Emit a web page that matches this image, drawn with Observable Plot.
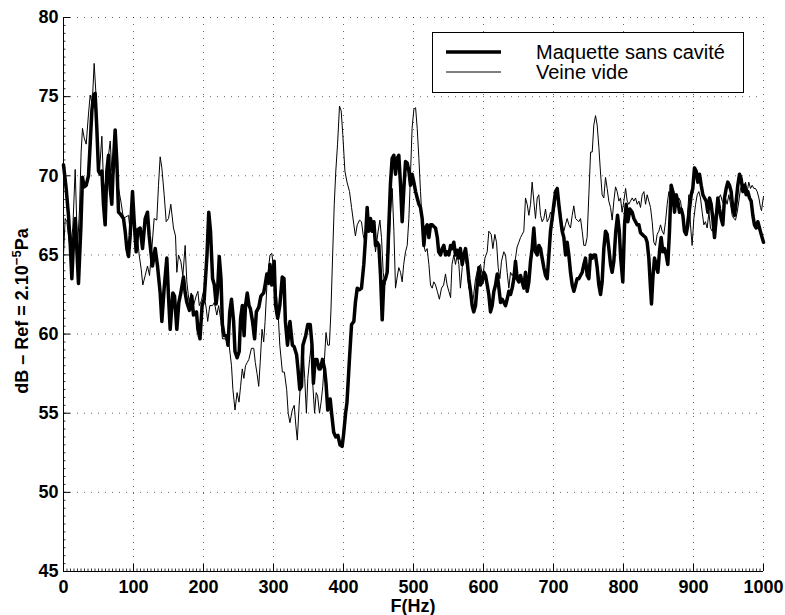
<!DOCTYPE html>
<html>
<head>
<meta charset="utf-8">
<script src="https://cdn.jsdelivr.net/npm/d3@7"></script>
<script src="https://cdn.jsdelivr.net/npm/@observablehq/plot@0.6"></script>
<style>
  html, body { margin: 0; padding: 0; background: #fff; }
  #wrap { position: relative; width: 785px; height: 615px; font-family: "Liberation Sans", Arial, Helvetica, sans-serif; }
  #legend { position: absolute; left: 432px; top: 32px; width: 310px; height: 59px; border: 1.5px solid #000; background: #fff; }
  #legend svg { display: block; }
</style>
</head>
<body>
<div id="wrap"></div>
<script>
// ---- Data ----
const seriesNames = ["Maquette sans cavité", "Veine vide"];

const maquetteF = [0,3.8,7.1,9.5,11.9,14.3,16.7,19,21.4,24.8,27.1,29.5,32.4,35.7,38.1,40.5,42.9,45.2,47.6,50,52.4,54.8,57.1,59.5,61.9,64.3,66.7,69,71.4,73.8,76.2,78.6,81,85.7,88.1,90.5,92.9,95.2,98.6,101,103.8,106.2,109.5,112.9,116.7,120,122.4,124.8,127.1,131,134.3,138.1,140.5,143.8,147.6,150,152.4,156.2,158.6,161.9,164.8,167.6,171.4,173.8,176.2,180,183.3,185.7,
190,192,195,198,201,205,207.5,210,213,215.5,218,220,222.5,225,227,229.5,233,235,237.5,240,243,245,248,251,253,255.5,258,260,262.5,265,267,270,273,275.5,279,282,286,288,290.5,293,295,297.5,301,303,306,309,312.5,315,317,320,323.5,327,329.5,333,335,337.5,340,342,346,349,352.5,355,357,359.5,362,365,367,370,373,375,377.5,381,383,386,389,392,395,398,400,403,405,408.6,411.5,414.8,417,419.6,423,425.7,429,431.5,433.8,436,438.6,441,443.4,445.7,448,450.5,452.9,455.3,457.6,460,462.4,464.8,467.2,469.5,471.9,474.3,476.7,479,481.5,483.8,486,488.6,491,493.4,495.7,498,500.5,503,505.3,507.7,510,512.4,514.8,517,519.5,522,524.3,526.7,529,531.5,534,536,538.6,541,543.4,545.7,548,550.5,553,555,557.6,560,562.4,564.8,567,569.6,572,574.3,576.7,579,581.5,583.8,586,
588.6,591,593.4,595.7,598.1,600.5,602.9,605.3,607.6,610,612.4,614.8,617.2,619.6,622,624.3,626.7,629.1,631.5,633.8,636.2,638.6,641,643.4,645.7,648.1,650.5,652.9,655.3,657.6,660,662.4,664.8,667.2,669.5,671.9,674.3,676.7,679.1,681.5,683.8,686.2,688.6,691,693.4,695.7,698.1,700.5,702.9,705.3,707.6,710,712.4,714.8,717.2,719.5,721.9,724.3,726.7,729.1,731.5,733.8,736.2,738.6,741,743.4,745.7,748.1,750.5,752.9,755.3,757.6,760,762.4,764.8,767.2,769.5,771.9,774.3,776.7,779.1,781.5,783.8,786.2,789,791.5,794,796,799,801.5,803.8,806.2,809.1,812.4,814.8,817.2,819.6,822,824.3,826.7,829.1,831.5,833.8,836.2,838.6,840,841.9,844.3,846.7,849.1,851.4,853.8,856.2,858.6,861,863.3,865.7,868.1,870.5,872.9,875.3,877.6,880,882.4,884.8,887.1,889.5,891.9,894.3,896.7,899,901.4,903.8,906.2,908.6,911,913.4,915.7,918.1,920.5,922.9,925.2,927.6,930,932.4,934.8,937.1,939.5,941.9,944.3,946.7,949,951.4,953.8,956.2,958.6,961,963.3,965.7,968.1,970.5,972.9,975.2,977.6,980,982.4,984.8,987.1,989.5,991.9,994.3,996.7,1000];

const maquetteDb = [70.7,69.2,67.5,65.8,63.5,65.8,67.3,65.4,63.2,66.7,69.9,69.3,69.4,70,72,74.1,75.1,75.2,73,70.3,70.1,70.3,68.2,66.9,70.3,71.3,69.2,68.2,70.9,72.9,70.9,67.7,67.6,67.3,66.5,65.4,64.9,66.2,69,67.1,65.2,66.6,66.7,65.4,67.3,67.7,66.2,65.2,64.3,65.4,64.3,62.6,60.8,62.9,64.8,62.4,60.3,62.6,62.4,60.3,62,62.6,63.6,62.6,62,61.5,62.4,61.2,
61.4,60.3,59.7,61.8,62.2,65,67.7,66.5,63.5,63.1,61.9,62.7,64.9,63.5,60.6,59.9,59.9,59.3,61.4,62.2,60.8,58.9,58.5,58.9,61,61.8,59.9,61.8,62.6,61.8,61.6,60.8,59.7,61.4,61.7,62.4,62.6,63.1,63.8,63.2,64.4,63.1,64.6,61.8,61,61.8,63.6,63.5,60.8,59.3,60.8,59.3,59.2,58.7,57.8,56.5,56.7,59.3,59.9,60.6,60.6,59.3,56.9,58.4,58.4,57.8,57.8,58.4,57.8,56.9,55.2,55.9,55,53.8,53.5,53.6,53,52.9,53.6,55,55.7,58.5,60.6,60.8,62,62.9,62.8,62.9,64.4,66.1,68,66.5,67.3,66.5,67.1,65.6,65.8,65.6,63.7,60.9,63.3,63.5,63.9,66.9,69.6,71.1,71.3,70.1,71.1,71.3,69.4,67.1,69,70.9,70.8,70.3,69.4,70.1,69.6,69,68.6,68.2,68,67.3,65.6,66.7,66.9,66.1,66.9,66.9,66.8,66.7,66.1,65.2,65,65.4,65.6,65,65.2,65,65.6,65.4,65.8,65,65.3,64.8,65.4,64.4,65,65.4,64.6,63.5,62.7,61.8,61.4,
61.8,63.1,64.2,63.1,63.3,63.9,63.7,63.1,62.5,61.4,61.8,62.7,63.1,63.8,62.9,62,62.2,62,61.8,62.2,62.7,62.5,62.9,63.5,64.6,63.5,63.3,63.7,63.3,62.9,63.9,62.7,63.3,64.6,65.4,66.7,65.2,65,65.6,65.4,64.8,64.2,63.7,63.5,65,66.5,67.3,68.2,69,69.2,68.2,67.3,66.5,66.1,65,65.8,65,63.9,63.1,62.7,63.1,63.5,63.5,63.7,63.9,64.4,64.8,63.7,63.5,65,64.8,65,65,64.2,63.1,62.5,63.3,65.4,66.5,66.3,65.4,64.4,63.9,64.6,66.5,67.5,66.5,64.8,63.3,66.9,68.2,67.1,67.9,67.7,67.3,67.1,66.9,66.9,66.4,66.3,66.2,66.1,65.8,64.8,62.9,61.9,63.5,64.8,64.4,63.9,65.2,66.1,65.2,65.4,65,64.4,66.5,69.4,69,67.7,68.8,68.4,67.7,67.9,67.5,66.5,66.3,66.9,67.9,68.8,69.2,70.5,70.3,69.6,70.1,69.4,68.8,68.6,68.4,67.7,68.6,68.2,67.3,66.1,67.3,68.6,67.9,67.3,66.9,68.6,69.2,69.6,69.4,69,67.9,67.5,68.4,69.4,70.1,69.8,69,69.4,68.8,69,68.6,68.4,67.5,66.9,66.7,67.1,66.7,66.3,65.8];

const veineF = [0,2.4,4.8,7.1,9.5,13.3,16.7,20,22.9,25.2,27.1,29.5,32.4,35.7,38.1,41,43.8,46.7,49,51.4,54.8,57.1,60.5,63.3,66.7,69,71.4,75.2,78.6,81.9,85.7,89,92.9,95.2,97.6,101,104.8,108.1,111,113.3,116.7,120,122.9,126.2,129.5,133.3,135.7,138.1,140.5,143.8,146.7,150,153.3,157.1,160,161.9,164.3,167.6,170.5,173.8,176.2,179.5,182.4,185.7,189.5,
192,194,197,200,204,206,209,213,215.5,219,221.6,225,227,231,234,236.6,240,242,245,248,250.7,253,255.4,257.7,260,262.4,264.8,268.5,271.8,274,276.5,278.9,281,283.6,286,288,290.6,293,295,297.6,300,302,304.7,307,309,312.7,315.5,318.8,321,323.5,326.8,329.6,332,334,336.6,339,342,344.6,347,349,351.6,354,356,358.7,361,363,365.7,368,370.4,372.8,375,377.5,379.8,382,384.5,386.8,389,391.5,394.3,396.7,399,402,405,408.6,411.5,414.8,417,419.6,422.9,425.7,428,430.5,433.8,436.2,438.6,441,443.4,445.7,449.5,452,454.3,456.7,459,462,464.8,467,469.6,472,474.3,476.7,479,481.5,483.8,486,488.6,491,493.4,495.7,498,500.5,503,505.3,507.7,510,512.4,514.8,517,519.5,522,524.3,526.7,529,531.5,534,537,540,543,545.7,548,550.5,553,555,557.6,560,562.4,564.8,567,569.6,572,574.3,576.7,579,581.5,583.8,586,588.6,
592.4,595.7,599,602,605.3,607.6,611,613.4,616.2,618.6,621,623.4,625.7,629,631.5,633.8,636.2,638.6,641,643.4,645.7,648,650.5,652.9,655.3,657.6,660,662.4,664.8,667.2,669.5,671.9,674.3,676.7,679,681.5,683.8,686.2,688.6,691,693.4,695.7,698,700.5,703,705.3,707.6,710,712.4,714.8,717,719.5,722,724.3,726.7,729,731.5,733.8,736.2,738.6,741,743.3,745.7,748,750.5,753,755.3,757.6,760,762.4,764.8,767,769.5,771.9,774.3,776.7,779,781.5,783.8,786.2,788.6,791,793.4,795.7,798,800.5,803,805.3,807.6,810,812.4,814.8,817.2,819.6,822,824.3,826.7,829.1,831.5,833.8,836.2,838.6,841,843.3,845.7,848.1,850.5,852.9,855.3,857.6,860,862.4,864.8,867.1,869.5,871.9,874.3,876.7,879,881.4,883.8,886.2,888.6,891,893.4,895.7,898,900.5,903,905.3,907.6,910,912.4,914.8,917,919.5,922,924.3,926.7,929,931.5,933.8,936.2,938.6,941,943.3,945.7,948,950.5,952.9,955.3,957.6,960,962.4,964.8,967.1,969.5,971.9,974.3,976.7,979,981.4,983.8,986.2,988.6,991,993.4,995.7,997.1,1000];

const veineDb = [65,67.3,67.1,66.2,65.4,66.7,70.4,65.4,67.9,71.5,73,72.4,72,73.9,75.1,74.5,77.1,74.9,72,70.3,72.5,69.6,69,70.9,72.2,70.3,70.1,70.9,69.2,68.4,67.3,67.4,67.5,66.5,67.9,66.9,66.5,65,64.1,63.1,63.7,64.3,63.7,65.4,67.3,67.2,69.4,71.2,70.5,68.8,67.1,67.3,68.2,66.7,66.2,63.9,65,64.6,63.7,65.6,63.3,62,62.6,61.8,62.4,
62.7,61.8,62.1,62.7,61.6,60.8,61.8,61.8,62,61.2,61.8,60.8,59.7,59.7,59.5,59.3,58,56.5,55.2,56.3,55.7,56.7,57.8,57.2,58,58.2,58.4,59.1,59.1,58.2,57.5,56.7,58.2,60.3,59.5,60.8,63.1,64.2,65,65.1,64.2,63.5,62.3,61,59.3,57.6,57.6,56.5,55,54.4,55.2,55.5,54.2,53.3,55.5,57.2,59.3,57.2,55,57.2,58.4,59.3,56.9,55,56.3,56.1,55,55.7,56.7,58.4,60.1,59.3,59.3,61.4,65,68.2,70.3,72,74.4,74.1,72.6,70.3,69.6,69,68,66.9,66.2,66.9,67.2,67.1,66.3,65.8,66.9,66.5,67.3,67.1,66.5,65.2,66.5,67.2,66.1,63.9,63.1,63.7,65.2,67.5,69.2,66.5,62.9,63.6,64.2,63.9,63.3,64.4,65.2,65.6,67.3,70.1,73,74.2,74.3,73,71.1,69,67.1,65.6,65.2,65.4,64.4,63.1,62.9,63.3,63.1,62.7,62.2,62.9,63.1,63.8,63.1,62.7,62.3,64.4,65,64.4,65,64.4,62.9,64.2,65,64.6,64.2,62.9,62.7,61.8,62.5,63.5,
64.2,64.4,63.5,64.8,65.2,66.5,66.3,65.4,66.3,65.8,64.2,63.5,64.6,65.2,65,63.9,62.9,63.9,63.7,63.9,64.8,65.5,65.8,66.1,66.3,66.5,68.6,68.2,67.5,68.2,69.6,68.4,67.3,68.6,68.8,67.5,67.1,67.3,67.9,67.1,67.3,67.7,67.5,67.7,68.4,68.8,68.4,67.7,66.9,66.5,66.9,67.3,66.9,66.7,67.5,68.1,67.3,67.2,67.1,67.3,66.5,65.6,65.6,66.1,68.8,71.5,71.5,73.2,73.8,73.2,71.8,70.3,68.8,68.6,69.9,69.2,68.4,68,67.2,68.4,69.3,69,68.4,68.6,67.7,68.4,69.2,68.4,68.2,68.4,68.6,68.4,68.6,68.2,68.4,68,68.8,69,68.2,68.8,68.4,68,67.1,65.8,65.6,66.3,66.5,66.9,66.5,66.3,67.1,68.2,69,68.8,68.4,69,68.4,68,68.6,68.4,67.7,66.9,66.5,67.3,68.8,66.9,65.6,67.3,68.2,68.8,69,68.6,67.7,66.9,67.1,66.7,67.7,66.7,66.5,66.9,67.7,68.2,68.6,68.8,68.4,68.2,68.6,68.2,68.8,68.2,67.5,67.3,67.2,67.7,68.4,69.2,69.4,69,69.6,69,69.6,69.2,69.4,69.2,69.2,69,68.6,68,67.8,68.7];

const xTicks = [0,100,200,300,400,500,600,700,800,900,1000];
const yTicks = [45,50,55,60,65,70,75,80];
const xMinorTicks = d3.range(0, 1000.1, 5);
const yMinorTicks = d3.range(45, 80.01, 0.5);

// ---- Build tables for Plot ----
const maquette = maquetteF.map((f, i) => ({f, db: maquetteDb[i]}));
const veine = veineF.map((f, i) => ({f, db: veineDb[i]}));

const W = 785, H = 615, mL = 63, mR = 22, mT = 17, mB = 44;
const xPerPx = 1000 / (W - mL - mR);
const yPerPx = 35 / (H - mT - mB);

const gridStyle = {stroke: "#000", strokeOpacity: 0.6, strokeWidth: 1, strokeDasharray: "1,6"};

const chart = Plot.plot({
  width: W, height: H,
  marginLeft: mL, marginRight: mR, marginTop: mT, marginBottom: mB,
  x: {domain: [0, 1000]},
  y: {domain: [45, 80]},
  style: {fontFamily: "'Liberation Sans', Arial, sans-serif", fontSize: "18px", fontWeight: "bold", color: "#000", background: "#fff", overflow: "visible"},
  marks: [
    Plot.ruleX(xTicks.filter(d => d > 0), {x: d => d, ...gridStyle}),
    Plot.ruleY(yTicks.filter(d => d > 45), {y: d => d, ...gridStyle}),
    // minor ticks (inward)
    Plot.ruleX(xMinorTicks, {x: d => d, y1: 45, y2: 45 + 2.5 * yPerPx, stroke: "#000", strokeWidth: 0.8}),
    Plot.ruleY(yMinorTicks, {y: d => d, x1: 0, x2: 2.5 * xPerPx, stroke: "#000", strokeWidth: 0.8}),
    // major ticks (inward)
    Plot.ruleX(xTicks, {x: d => d, y1: 45, y2: 45 + 7 * yPerPx, stroke: "#000", strokeWidth: 1}),
    Plot.ruleY(yTicks, {y: d => d, x1: 0, x2: 7 * xPerPx, stroke: "#000", strokeWidth: 1}),
    // data
    Plot.line(veine, {x: "f", y: "db", stroke: "#000", strokeWidth: 1, strokeLinejoin: "round"}),
    Plot.line(maquette, {x: "f", y: "db", stroke: "#000", strokeWidth: 3.5, strokeLinejoin: "round"}),
    // axes
    Plot.ruleX([0], {x: d => d, stroke: "#000", strokeWidth: 1}),
    Plot.ruleY([45], {y: d => d, stroke: "#000", strokeWidth: 1}),
    Plot.axisX({ticks: xTicks, tickSize: 0, tickPadding: 9, tickFormat: d => String(d), label: null, fontSize: 18, fontWeight: "bold"}),
    Plot.axisY({ticks: yTicks, tickSize: 0, tickPadding: 5, tickFormat: d => String(d), label: null, fontSize: 18, fontWeight: "bold"})
  ]
});

const wrap = document.getElementById("wrap");
wrap.appendChild(chart);

// axis titles
const svg = d3.select(chart);
svg.append("text")
  .attr("x", 413).attr("y", 612)
  .attr("text-anchor", "middle")
  .attr("font-family", "'Liberation Sans', Arial, sans-serif")
  .attr("font-size", 18).attr("font-weight", "bold").attr("fill", "#000")
  .text("F(Hz)");

const yl = svg.append("text")
  .attr("transform", "translate(28,311) rotate(-90)")
  .attr("text-anchor", "middle")
  .attr("font-family", "'Liberation Sans', Arial, sans-serif")
  .attr("font-size", 18).attr("font-weight", "bold").attr("fill", "#000");
yl.append("tspan").text("dB \u2013 Ref = 2.10");
yl.append("tspan").attr("font-size", 13).attr("dy", -7).text("\u22125");
yl.append("tspan").attr("dy", 7).text("Pa");

// legend
const legend = document.createElement("div");
legend.id = "legend";
legend.innerHTML = `<svg width="310" height="59" font-family="'Liberation Sans', Arial, sans-serif" font-size="20">
  <line x1="13" x2="68" y1="19" y2="19" stroke="#000" stroke-width="3.5"/>
  <line x1="13" x2="68" y1="39" y2="39" stroke="#000" stroke-width="1"/>
  <text x="103" y="26" fill="#000">${seriesNames[0]}</text>
  <text x="103" y="46" fill="#000">${seriesNames[1]}</text>
</svg>`;
wrap.appendChild(legend);
</script>
</body>
</html>
